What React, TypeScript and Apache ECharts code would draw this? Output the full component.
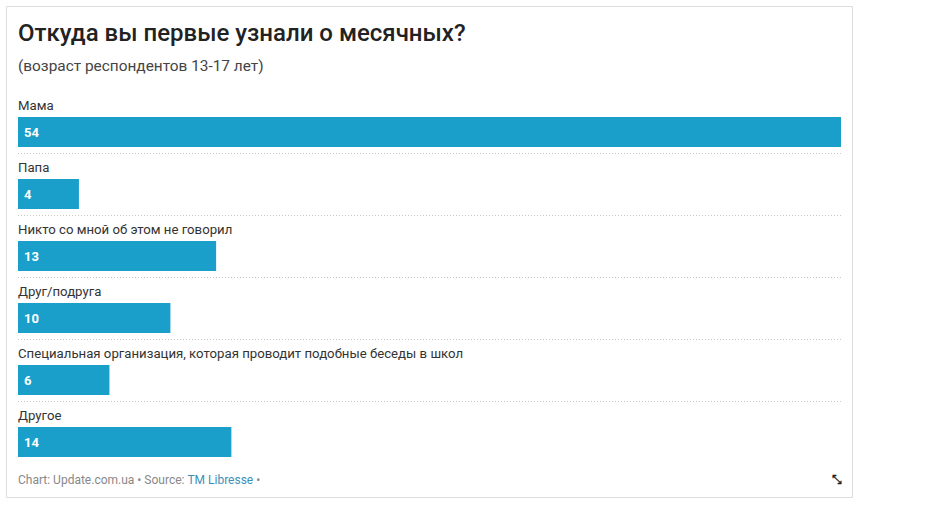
import React, { useEffect, useRef } from "react";
import * as echarts from "echarts";

const categories = [
  "Мама",
  "Папа",
  "Никто со мной об этом не говорил",
  "Друг/подруга",
  "Специальная организация, которая проводит подобные беседы в школ",
  "Другое",
];
const values = [54, 4, 13, 10, 6, 14];
const titleText = "Откуда вы первые узнали о месячных?";
const subtitleText = "(возраст респондентов 13-17 лет)";

const FONT = "Roboto, 'Noto Sans', sans-serif";
const BAR = "#1a9fcb";

export default function App() {
  const ref = useRef<HTMLDivElement>(null);
  useEffect(() => {
    document.body.style.margin = "0";
    const chart = echarts.init(ref.current!, null, { renderer: "svg" });
    chart.setOption({
      animation: false,
      backgroundColor: "#fff",
      title: [
        {
          text: titleText,
          left: 18,
          top: 21,
          padding: 0,
          textStyle: { fontFamily: FONT, fontSize: 24, fontWeight: 500, color: "#222" },
        },
        {
          text: subtitleText,
          left: 18,
          top: 58,
          padding: 0,
          textStyle: { fontFamily: FONT, fontSize: 15.4, fontWeight: 400, color: "#444" },
        },
      ],
      grid: [
        { left: 18, right: 88, top: 101, height: 372 },
        { left: 18, right: 88, top: 153, height: 248 },
      ],
      xAxis: [
        { type: "value", gridIndex: 0, min: 0, max: 54, show: false },
        { type: "value", gridIndex: 1, min: 0, max: 1, show: false },
      ],
      yAxis: [
        {
          type: "category",
          gridIndex: 0,
          data: categories,
          inverse: true,
          show: false,
        },
        {
          type: "value",
          gridIndex: 1,
          min: 0,
          max: 4,
          interval: 1,
          axisLine: { show: false },
          axisTick: { show: false },
          axisLabel: { show: false },
          splitLine: { show: true, lineStyle: { type: [1, 2], color: "#c8c8c8", width: 1 } },
        },
      ],
      series: [
        {
          type: "bar",
          xAxisIndex: 0,
          yAxisIndex: 0,
          data: values,
          barWidth: 30,
          itemStyle: { color: BAR },
          label: {
            show: true,
            position: "insideLeft",
            distance: 6,
            color: "#fff",
            fontFamily: FONT,
            fontSize: 13,
            fontWeight: "bold",
          },
          silent: true,
        },
        {
          type: "bar",
          xAxisIndex: 0,
          yAxisIndex: 0,
          data: values,
          barWidth: 30,
          barGap: "-100%",
          itemStyle: { color: "transparent" },
          label: {
            show: true,
            position: [0, -18],
            formatter: "{b}",
            color: "#333",
            fontFamily: FONT,
            fontSize: 13.2,
          },
          silent: true,
        },
        {
          type: "scatter",
          xAxisIndex: 1,
          yAxisIndex: 1,
          data: [],
        },
      ],
      graphic: [
        {
          type: "rect",
          shape: { x: 6.5, y: 6.5, width: 846, height: 491 },
          style: { fill: "none", stroke: "#dcdcdc", lineWidth: 1 },
          silent: true,
          z: -1,
        },
        {
          type: "text",
          left: 18,
          top: 474,
          style: {
            text: "{g|Chart: Update.com.ua • Source: }{b|TM Libresse}{g| •}",
            rich: {
              g: { fill: "#888", fontSize: 12, fontFamily: FONT },
              b: { fill: "#3d8fb8", fontSize: 12, fontFamily: FONT },
            },
          },
        },
        {
          type: "text",
          left: 832,
          top: 474,
          style: { text: "⤡", fill: "#222", fontSize: 12, fontWeight: "bold", fontFamily: "DejaVu Sans" },
        },
      ],
    });
    return () => chart.dispose();
  }, []);
  return <div ref={ref} style={{ width: 929, height: 526 }} />;
}
